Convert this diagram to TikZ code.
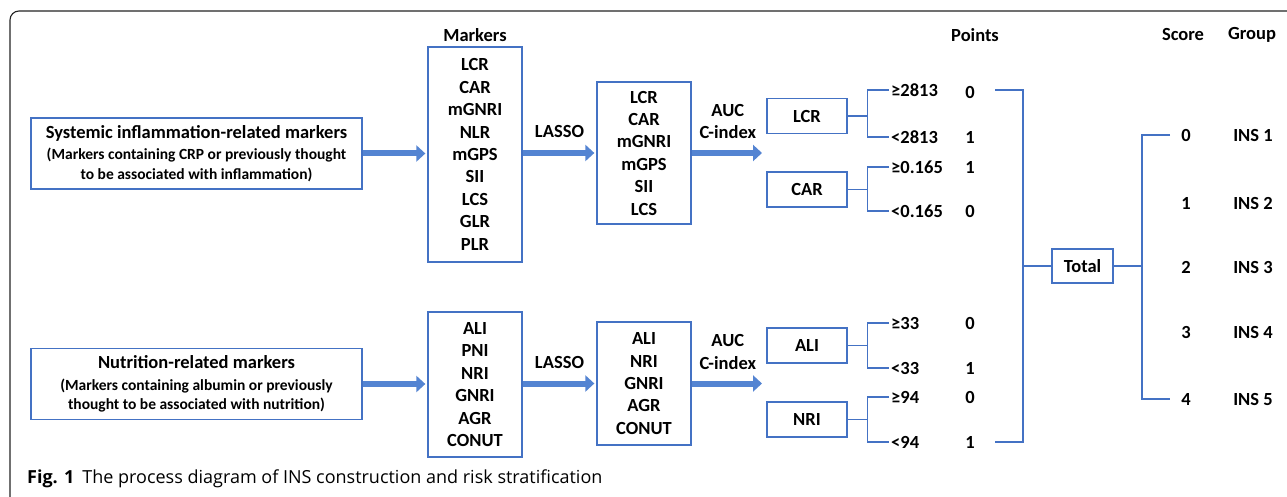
\documentclass[tikz,border=0pt]{standalone}
\usepackage{fontspec}
\setmainfont{Carlito}
\newfontfamily\capfont{Open Sans}
\usetikzlibrary{arrows.meta,positioning,calc}
\definecolor{lineblue}{RGB}{68,114,196}
\definecolor{arrowblue}{RGB}{84,132,210}
\definecolor{framegray}{RGB}{35,35,35}
\newcommand{\subf}{\fontsize{15.5}{18}\selectfont}

\begin{document}
\begin{tikzpicture}[
  x=1pt, y=-1pt,
  every node/.style={font=\fontsize{18.5}{22.4}\selectfont\bfseries},
  src/.style={draw=lineblue, line width=1.3pt, minimum width=331pt,
              minimum height=71pt, align=center, inner sep=0pt},
  list/.style={draw=lineblue, line width=1.3pt, minimum width=94pt,
               align=center, inner sep=0pt},
  cut/.style={draw=lineblue, line width=1.3pt, minimum width=80pt,
              minimum height=35pt, inner sep=0pt},
  cutlbl/.style={anchor=west, inner sep=2pt},
  lnk/.style={lineblue, line width=1.5pt},
  big/.style={arrowblue, line width=6pt, shorten >=2pt,
              -{Triangle[length=9pt,width=16pt]}},
  arrlbl/.style={text=black, align=center}
]
\useasboundingbox (0,0) rectangle (1287,497);
\draw[framegray, line width=1.1pt, rounded corners=9pt]
  (10,497) -- (10,11) -- (1287,11);

% headings
\node (hmark) at (475,35) {Markers};
\node (hpts) at (975,35) {Points};
\node (hscore) at (1183,35) {Score};
\node (hgroup) at (1252,35) {Group};

% inflammation branch
\node[src] (inf) at (196.5,153.5) {Systemic inflammation-related markers\\[-1pt]
  \subf (Markers containing CRP or previously thought\\[-3pt]
  \subf to be associated with inflammation)};
\node[list, minimum height=215pt] (mk1) at (475,154.5)
  {LCR\\CAR\\mGNRI\\NLR\\mGPS\\SII\\LCS\\GLR\\PLR};
\node[list, minimum height=142pt] (sel1) at (644,153)
  {LCR\\CAR\\mGNRI\\mGPS\\SII\\LCS};
\coordinate (auc1) at (764,153);

\draw[big] (inf.east) -- (inf.east -| mk1.west);
\draw[big] (mk1.east |- sel1.west) -- (sel1.west)
  node[arrlbl, midway, above=9pt] {LASSO};
\draw[big] (sel1.east) -- (auc1)
  node[arrlbl, midway, above=8pt] {AUC\\C-index};

% nutrition branch
\node[src] (nut) at (196.5,384) {Nutrition-related markers\\[-1pt]
  \subf (Markers containing albumin or previously\\[-3pt]
  \subf thought to be associated with nutrition)};
\node[list, minimum height=145pt] (mk2) at (475,384.5)
  {ALI\\PNI\\NRI\\GNRI\\AGR\\CONUT};
\node[list, minimum height=123pt] (sel2) at (644,383.5)
  {ALI\\NRI\\GNRI\\AGR\\CONUT};
\coordinate (auc2) at (764,383.5);

\draw[big] (nut.east) -- (nut.east -| mk2.west);
\draw[big] (mk2.east |- sel2.west) -- (sel2.west)
  node[arrlbl, midway, above=9pt] {LASSO};
\draw[big] (sel2.east) -- (auc2)
  node[arrlbl, midway, above=8pt] {AUC\\C-index};

% cut-offs
\node[cut] (lcr) at (807,116) {LCR};
\node[cutlbl] (lcrhi) at (889,90) {≥2813};
\node[cutlbl] (lcrlo) at (889,137) {<2813};
\node (lcrhip) at (970,92) {0};
\node (lcrlop) at (970,137) {1};
\draw[lnk] (lcr.east) -- ++(20,0) coordinate (lcrj);
\draw[lnk] (lcrhi.west) -| (lcrj) |- (lcrlo.west);

\node[cut] (car) at (807,189.5) {CAR};
\node[cutlbl] (carhi) at (889,167) {≥0.165};
\node[cutlbl] (carlo) at (889,211) {<0.165};
\node (carhip) at (970,167) {1};
\node (carlop) at (970,211) {0};
\draw[lnk] (car.east) -- ++(20,0) coordinate (carj);
\draw[lnk] (carhi.west) -| (carj) |- (carlo.west);

\node[cut] (ali) at (807,345.5) {ALI};
\node[cutlbl] (alihi) at (889,323) {≥33};
\node[cutlbl] (alilo) at (889,368) {<33};
\node (alihip) at (970,323) {0};
\node (alilop) at (970,368) {1};
\draw[lnk] (ali.east) -- ++(20,0) coordinate (alij);
\draw[lnk] (alihi.west) -| (alij) |- (alilo.west);

\node[cut] (nri) at (807,419.5) {NRI};
\node[cutlbl] (nrihi) at (889,397) {≥94};
\node[cutlbl] (nrilo) at (889,442) {<94};
\node (nrihip) at (970,397) {0};
\node (nrilop) at (970,442) {1};
\draw[lnk] (nri.east) -- ++(20,0) coordinate (nrij);
\draw[lnk] (nrihi.west) -| (nrij) |- (nrilo.west);

% total
\coordinate (brtop) at (995,90);
\coordinate (brbot) at (995,442);
\coordinate (bj) at (1023,266);
\node[cut, minimum width=61pt, minimum height=34pt] (total) at (1082.5,266) {Total};
\draw[lnk] (brtop) -| (bj) |- (brbot);
\draw[lnk] (bj) -- (total.west);

% score and group
\foreach \s/\g/\y in {0/INS 1/135, 1/INS 2/203, 2/INS 3/267, 3/INS 4/332, 4/INS 5/399}{
  \node (sc\s) at (1186,\y) {\s};
  \node (gr\s) at (1253,\y) {\g};
}
\coordinate (sj) at (1142,266);
\coordinate (stop) at (1170,135);
\coordinate (sbot) at (1170,399);
\draw[lnk] (total.east) -- (sj);
\draw[lnk] (stop) -| (sj) |- (sbot);

% caption
\node[anchor=west, inner sep=0pt, font=\capfont\fontsize{18}{21}\selectfont] (cap) at (27,479)
  {\textbf{Fig. 1}\hspace{8pt}The process diagram of INS construction and risk stratification};
\end{tikzpicture}
\end{document}
